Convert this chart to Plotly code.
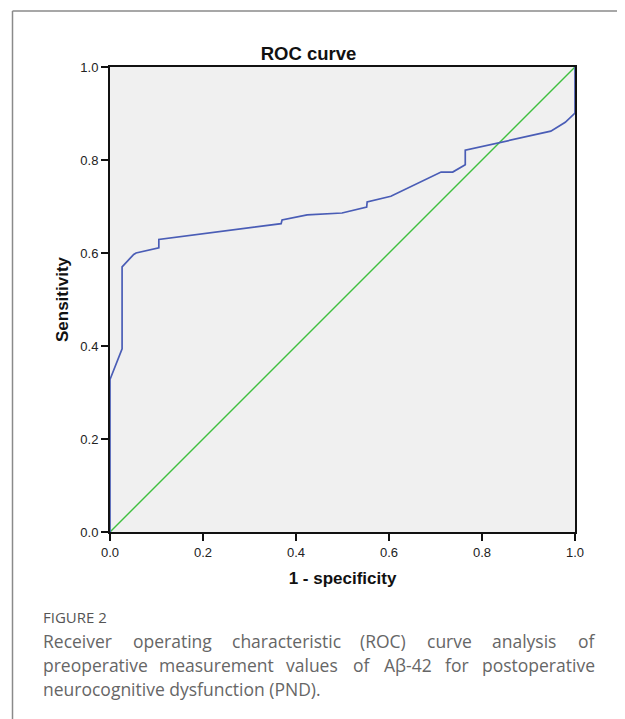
import plotly.graph_objects as go

# ---- data ----
fpr = [0.0, 0.0, 0.026, 0.026, 0.051, 0.056, 0.105, 0.105, 0.368, 0.370,
       0.424, 0.499, 0.552, 0.553, 0.604, 0.712, 0.737, 0.764, 0.764,
       0.835, 0.948, 0.979, 1.0, 1.0]
tpr = [0.0, 0.328, 0.394, 0.570, 0.597, 0.600, 0.611, 0.629, 0.663, 0.671,
       0.682, 0.686, 0.699, 0.710, 0.722, 0.774, 0.774, 0.790, 0.821,
       0.837, 0.862, 0.881, 0.901, 1.0]
ref_x = [0.0, 1.0]
ref_y = [0.0, 1.0]
tick_vals = [0.0, 0.2, 0.4, 0.6, 0.8, 1.0]

title_text = "ROC curve"
x_title = "1 - specificity"
y_title = "Sensitivity"
fig_label = "FIGURE 2"
caption_line1 = ["Receiver", "operating", "characteristic", "(ROC)", "curve", "analysis", "of"]
caption_line2 = ["preoperative", "measurement", "values", "of", "Aβ-42", "for", "postoperative"]
caption_line3 = "neurocognitive dysfunction (PND)."

# ---- layout geometry (page pixels of the reference) ----
OFF = 8                      # page body margin of the html page
PW, PH = 625, 719
L, R, T, B = 110, 575, 67, 532
W, H = PW - OFF, PH - OFF


def px2x(px):
    return (px - L) / (R - L)


def py2y(py):
    return (B - py) / (B - T)


fig = go.Figure()
fig.add_trace(go.Scatter(x=ref_x, y=ref_y, mode="lines",
                         line=dict(color="#3fbf3f", width=1.4),
                         hoverinfo="skip", showlegend=False))
fig.add_trace(go.Scatter(x=fpr, y=tpr, mode="lines",
                         line=dict(color="#4a5db6", width=1.7),
                         showlegend=False))

axis_common = dict(
    range=[0, 1], tickvals=tick_vals, tickformat=".1f",
    ticks="outside", ticklen=7, tickwidth=1.5, tickcolor="#111",
    showline=True, linecolor="#111", linewidth=2, mirror=True,
    showgrid=False, zeroline=False,
    tickfont=dict(family="Liberation Sans, Arial", size=13, color="#222"),
)

fig.update_layout(
    width=W, height=H,
    margin=dict(l=L - OFF, r=PW - R, t=T - OFF, b=PH - B, pad=0),
    paper_bgcolor="white", plot_bgcolor="#f0f0f0",
    title=dict(text=title_text, x=(308.5 - OFF) / W, xanchor="center",
               y=1 - (54 - OFF) / H, yanchor="middle",
               xref="container", yref="container",
               font=dict(family="Liberation Sans, Arial", size=18.5, color="#111",
                         weight="bold")),
    xaxis=dict(axis_common,
               title=dict(text="<b>" + x_title + "</b>", standoff=14,
                          font=dict(family="Liberation Sans, Arial", size=17, color="#111"))),
    yaxis=dict(axis_common,
               title=dict(text="<b>" + y_title + "</b>", standoff=7,
                          font=dict(family="Liberation Sans, Arial", size=17, color="#111"))),
    showlegend=False,
)

# outer frame (top and left edges)
frame = dict(color="#8a8a8a", width=1.5)
fig.add_shape(type="line", xref="paper", yref="paper",
              x0=px2x(12.5), x1=px2x(PW + 5), y0=py2y(11), y1=py2y(11), line=frame)
fig.add_shape(type="line", xref="paper", yref="paper",
              x0=px2x(12.5), x1=px2x(12.5), y0=py2y(11), y1=py2y(PH + 5), line=frame)

cap_font = "Open Sans, Noto Sans, sans-serif"
cap_left = 41
cap_size = 17.5
fig.add_annotation(text=fig_label, xref="paper", yref="paper",
                   x=px2x(cap_left), y=py2y(617), xanchor="left", yanchor="middle",
                   showarrow=False, font=dict(family=cap_font, size=15, color="#555"))

# justified caption lines: word start positions (page px)
line1_x = [41, 130.8, 230.1, 358.4, 424.9, 490.2, 575.5]
line2_x = [41, 156.5, 284, 351, 382, 443, 479.5]
for words, xs, yy in ((caption_line1, line1_x, 641), (caption_line2, line2_x, 665)):
    for wd, xx in zip(words, xs):
        fig.add_annotation(text=wd, xref="paper", yref="paper",
                           x=px2x(xx), y=py2y(yy), xanchor="left", yanchor="middle",
                           showarrow=False,
                           font=dict(family=cap_font, size=cap_size, color="#666"))
fig.add_annotation(text=caption_line3, xref="paper", yref="paper",
                   x=px2x(cap_left), y=py2y(689), xanchor="left", yanchor="middle",
                   showarrow=False, font=dict(family=cap_font, size=cap_size, color="#666"))

fig.write_html("out.html")
